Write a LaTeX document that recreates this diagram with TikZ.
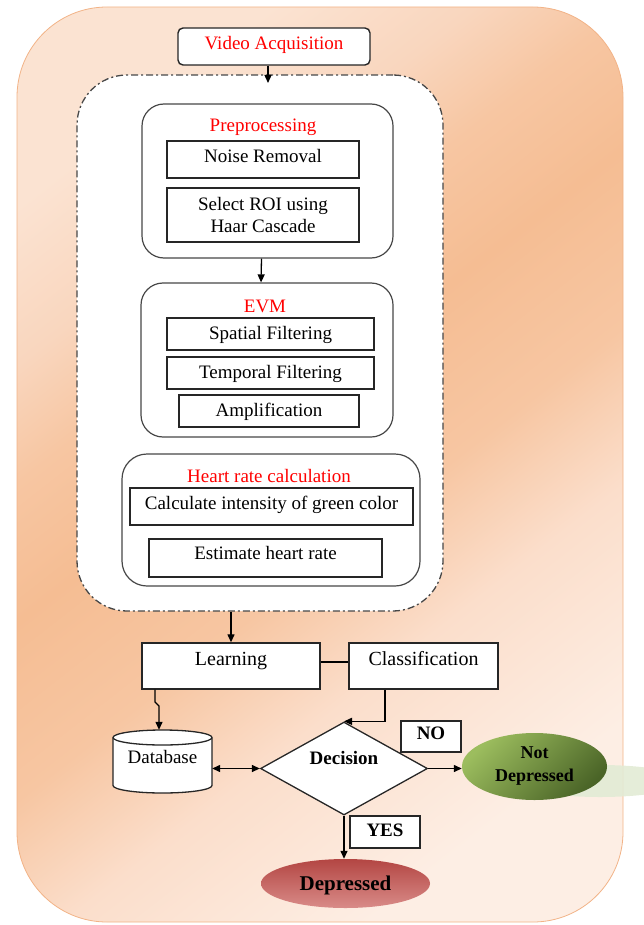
\documentclass[tikz,border=0pt]{standalone}
\usepackage{fontspec}
\setmainfont{Liberation Serif}
\usetikzlibrary{shapes.geometric,arrows.meta}
\definecolor{bgA}{HTML}{FBE3D2}
\definecolor{bgB}{HTML}{F9D6BE}
\definecolor{bgC}{HTML}{F7C6A2}
\definecolor{bgD}{HTML}{F5BD93}
\definecolor{bgE}{HTML}{FBDECB}
\definecolor{bgF}{HTML}{FDEEE4}
\definecolor{bgline}{HTML}{F2B387}
\definecolor{lineg}{HTML}{262626}
\definecolor{tred}{HTML}{FF0000}
\definecolor{gtop}{HTML}{9CBD5E}
\definecolor{gbot}{HTML}{4A6427}
\definecolor{rtop}{HTML}{B34643}
\definecolor{rmid}{HTML}{C25350}
\definecolor{rbot}{HTML}{D98B88}
\definecolor{gshadow}{HTML}{E2EBD5}
\pgfdeclareverticalshading{bgshade}{100bp}{color(0bp)=(bgF); color(25bp)=(bgF); color(37bp)=(bgE); color(45bp)=(bgC); color(54bp)=(bgD); color(61bp)=(bgC); color(67bp)=(bgB); color(75bp)=(bgA); color(100bp)=(bgA)}
\newcommand\myfs{\fontsize{19}{22}\selectfont}
\begin{document}
\begin{tikzpicture}[x=1pt,y=-1pt,
  >={Triangle[length=8pt,width=7pt]},
  box/.style={draw=lineg, line width=1.4pt, fill=white, inner sep=0pt, font=\myfs},
  tup/.style={text height=13.5pt, text depth=#1},
  grp/.style={draw=lineg!85, line width=1.2pt, fill=white, inner sep=0pt, rounded corners=22pt},
  grptitle/.style={font=\myfs, text=tred, anchor=base, inner sep=0pt},
  arr/.style={->, line width=1.3pt, draw=black},
  lbl/.style={box, font=\myfs\bfseries}
]
\useasboundingbox (0,0) rectangle (644,925);

% outer background
\shade[rounded corners=90pt, shading=bgshade, shading angle=38]
  (17,7) rectangle (623,922);
\draw[bgline, line width=0.8pt, rounded corners=90pt] (17,7) rectangle (623,922);

% reflection of the green ellipse
\fill[gshadow, opacity=0.9] (600,781) ellipse [x radius=85pt, y radius=16pt];

% video acquisition
\node[box, rounded corners=5pt, minimum width=192pt, minimum height=37pt, text=tred, tup=7.9pt] (va) at (274,46.5) {Video Acquisition};

% dash-dot container
\node[draw=lineg!85, line width=1.3pt, dash pattern=on 7pt off 3pt on 2pt off 3pt, fill=white,
      rounded corners=50pt, minimum width=366pt, minimum height=536pt, inner sep=0pt] (dd) at (260,343) {};

% preprocessing
\node[grp, minimum width=251pt, minimum height=154pt] (pre) at (267.5,181) {};
\node[grptitle] (pret) at (263,132) {Preprocessing};
\node[box, minimum width=192pt, minimum height=37pt, tup=7.9pt] (noise) at (263,159.5) {Noise Removal};
\node[box, minimum width=192pt, minimum height=54pt, align=center] (roi) at (263,215) {Select ROI using\\Haar Cascade};

% EVM
\node[grp, minimum width=252pt, minimum height=154pt] (evm) at (267,360) {};
\node[grptitle] (evmt) at (265,312) {EVM};
\node[box, minimum width=207pt, minimum height=32pt, tup=2.9pt] (spat) at (270.5,334) {Spatial Filtering};
\node[box, minimum width=207pt, minimum height=32pt, tup=2.9pt] (temp) at (270.5,373) {Temporal Filtering};
\node[box, minimum width=180pt, minimum height=32pt, tup=2.9pt] (amp) at (269,411) {Amplification};

% heart rate
\node[grp, rounded corners=25pt, minimum width=298pt, minimum height=132pt] (hr) at (271,520) {};
\node[grptitle] (hrt) at (269,482) {Heart rate calculation};
\node[box, minimum width=283pt, minimum height=37pt, tup=7.9pt] (calc) at (271.5,506.5) {Calculate intensity of green color};
\node[box, minimum width=233pt, minimum height=38pt, tup=10.9pt] (est) at (265.5,558) {Estimate heart rate};

% learning / classification
\node[box, font=\fontsize{20}{24}\selectfont, minimum width=178pt, minimum height=46pt, text height=14pt, text depth=14.8pt] (learn) at (231,666) {Learning};
\node[box, font=\fontsize{20}{24}\selectfont, minimum width=149pt, minimum height=46pt, text height=14pt, text depth=14.8pt] (cls) at (423.5,666) {Classification};

% database cylinder
\path[fill=white, draw=lineg, line width=1.3pt]
  (113,737.5) -- (113,785.5) arc[start angle=180, end angle=360, x radius=49.5pt, y radius=7.5pt]
  -- (212,737.5) arc[start angle=0, end angle=180, x radius=49.5pt, y radius=7.5pt] -- cycle;
\draw[lineg, line width=1.3pt] (113,737.5) arc[start angle=180, end angle=360, x radius=49.5pt, y radius=7.5pt];
\node[inner sep=0pt, minimum width=99pt, minimum height=63pt, font=\myfs, tup=9.9pt] (db) at (162.5,761.5) {Database};

% decision
\node[diamond, aspect=1.8, draw=lineg, line width=1.3pt, fill=white, inner sep=0pt,
      minimum width=167pt, minimum height=93pt, font=\myfs\bfseries, tup=21.7pt] (dec) at (344,768.5) {Decision};

\node[lbl, minimum width=60pt, minimum height=31pt, tup=7.7pt] (no) at (431,736.5) {NO};
\node[lbl, minimum width=70pt, minimum height=32pt, tup=4.7pt] (yes) at (385,832) {YES};

% outcomes
\node[ellipse, inner sep=0pt, minimum width=145pt, minimum height=67pt, top color=gtop, bottom color=gbot,
      shading angle=45, align=center, font=\fontsize{18}{23}\selectfont\bfseries] (nd) at (534.5,766.5) {Not\\Depressed};
\node[ellipse, inner sep=0pt, minimum width=169pt, minimum height=49pt, top color=rtop, middle color=rmid, bottom color=rbot,
      font=\fontsize{21}{24}\selectfont\bfseries, text height=14pt, text depth=0.5pt] (dep) at (345.5,883.5) {Depressed};

% connectors
\coordinate (vain) at (268,83);
\draw[arr] (va.south -| vain) -- (vain);
\draw[arr] ([xshift=-6pt]pre.south) -- ([xshift=-6pt]evm.north);
\draw[arr] (dd.south -| learn.north) -- (learn.north);
\draw[line width=1.3pt] ([yshift=4pt]learn.east) -- ([yshift=4pt]cls.west);
\coordinate (dba) at (155,702);
\coordinate (dbb) at (159,706);
\draw[arr] (learn.south -| dba) -- (dba) -- (dbb) -- (db.north -| dbb);
\draw[arr] ([xshift=-38.5pt]cls.south) |- (dec.north);
\draw[<->, line width=1.3pt] (db.east |- dec.west) -- (dec.west);
\draw[arr] (dec.east) -- (dec.east -| nd.west);
\draw[arr] (dec.south) -- (dec.south |- dep.north);
\end{tikzpicture}
\end{document}
